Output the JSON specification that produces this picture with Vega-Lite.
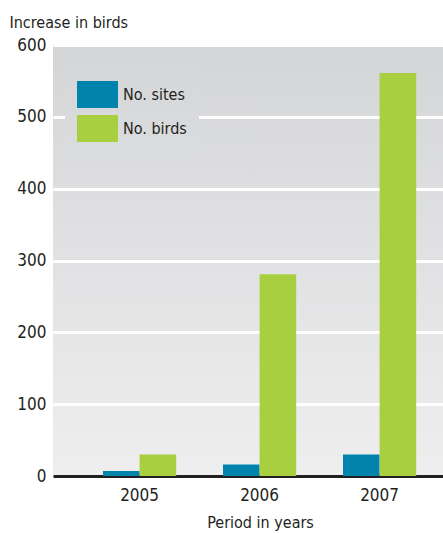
{
  "$schema": "https://vega.github.io/schema/vega-lite/v6.json",
  "width": 390,
  "height": 431,
  "autosize": {"type": "none"},
  "padding": {"left": 53, "top": 45, "right": 0, "bottom": 57},
  "background": "#ffffff",
  "data": {
    "values": [
      {"year": "2005", "series": "No. sites", "count": 7},
      {"year": "2005", "series": "No. birds", "count": 30},
      {"year": "2006", "series": "No. sites", "count": 16},
      {"year": "2006", "series": "No. birds", "count": 281},
      {"year": "2007", "series": "No. sites", "count": 30},
      {"year": "2007", "series": "No. birds", "count": 561}
    ]
  },
  "mark": {"type": "bar", "strokeWidth": 0},
  "encoding": {
    "x": {
      "field": "year",
      "type": "nominal",
      "scale": {"paddingInner": 0.39, "paddingOuter": 0.32, "align": 0.651},
      "axis": {
        "title": "Period in years",
        "labelAngle": 0,
        "ticks": false,
        "tickSize": 0,
        "labelPadding": 11,
        "domain": true,
        "domainColor": "#231f20",
        "domainWidth": 3,
        "grid": false,
        "titleX": 207,
        "titleY": 51,
        "titleAnchor": null,
        "titleBaseline": "alphabetic",
        "titleAlign": "center"
      }
    },
    "xOffset": {
      "field": "series",
      "type": "nominal",
      "sort": ["No. sites", "No. birds"],
      "scale": {"paddingInner": 0, "paddingOuter": 0}
    },
    "y": {
      "field": "count",
      "type": "quantitative",
      "scale": {"domain": [0, 600], "nice": false},
      "axis": {
        "title": "Increase in birds",
        "values": [0, 100, 200, 300, 400, 500, 600],
        "domain": false,
        "ticks": false,
        "tickSize": 0,
        "labelPadding": 7,
        "grid": true,
        "gridColor": "#ffffff",
        "gridWidth": 3,
        "gridOpacity": 1,
        "titleAngle": 0,
        "titleAlign": "left",
        "titleBaseline": "alphabetic",
        "titleX": -44,
        "titleY": -18
      }
    },
    "color": {
      "field": "series",
      "type": "nominal",
      "sort": ["No. sites", "No. birds"],
      "scale": {"domain": ["No. sites", "No. birds"], "range": ["#0083ad", "#a8cf3f"]},
      "legend": {
        "title": null,
        "orient": "none",
        "legendX": 12,
        "legendY": 17,
        "padding": 12,
        "rowPadding": -3,
        "symbolType": "M-1,-0.6585H1V0.6585H-1Z",
        "symbolSize": 1681,
        "symbolStrokeWidth": 0,
        "symbolOpacity": 1,
        "labelOffset": 5,
        "fillColor": {"expr": "{gradient: 'linear', x1: 0, y1: 0, x2: 0, y2: 1, stops: [{offset: 0, color: '#d5d6d8'}, {offset: 1, color: '#dbdcdd'}]}"},
        "strokeColor": null
      }
    }
  },
  "config": {
    "font": "DejaVu Sans Condensed, DejaVu Sans, sans-serif",
    "view": {
      "stroke": null,
      "fill": {"expr": "{gradient: 'linear', x1: 0, y1: 0, x2: 0, y2: 1, stops: [{offset: 0, color: '#d4d5d7'}, {offset: 1, color: '#eeeeef'}]}"}
    },
    "axis": {
      "labelFont": "DejaVu Sans Condensed, DejaVu Sans, sans-serif",
      "titleFont": "DejaVu Sans Condensed, DejaVu Sans, sans-serif",
      "labelFontSize": 17,
      "titleFontSize": 16,
      "labelColor": "#231f20",
      "titleColor": "#231f20",
      "titleFontWeight": "normal"
    },
    "legend": {
      "labelFont": "DejaVu Sans Condensed, DejaVu Sans, sans-serif",
      "labelFontSize": 16,
      "labelColor": "#231f20"
    }
  }
}
